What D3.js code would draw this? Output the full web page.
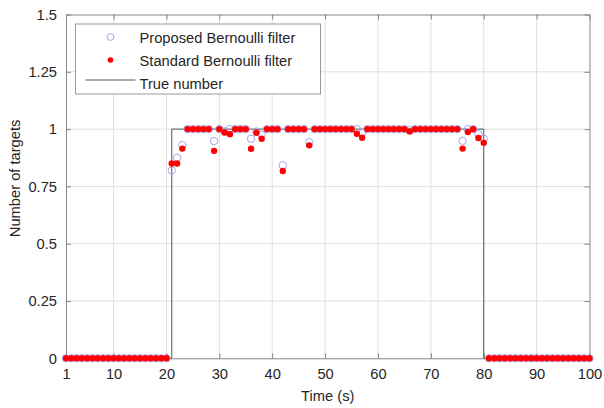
<!DOCTYPE html>
<html>
<head>
<meta charset="utf-8">
<script src="https://cdn.jsdelivr.net/npm/d3@7"></script>
<style>
    body { margin: 0; background: #fff; }
    text { font-family: Arial, "Liberation Sans", sans-serif; fill: #262626; }
</style>
</head>
<body>
<svg id="chart" width="604" height="408"></svg>
<script>
    // time steps (s)
    var times = d3.range(1, 101);

    // estimated number of targets, proposed filter
    var proposedEst = [
        0, 0, 0, 0, 0, 0, 0, 0, 0, 0,
        0, 0, 0, 0, 0, 0, 0, 0, 0, 0,
        0.82, 0.875, 0.93, 1, 1, 1, 1, 1, 0.948, 1,
        0.99, 1, 1, 1, 1, 0.958, 0.99, 0.975, 1, 1,
        1, 0.842, 1, 1, 1, 1, 0.943, 1, 1, 1,
        1, 1, 1, 1, 1, 1, 0.984, 1, 1, 1,
        1, 1, 1, 1, 1, 0.995, 1, 1, 1, 1,
        1, 1, 1, 1, 1, 0.949, 1, 1, 0.978, 0.958,
        0, 0, 0, 0, 0, 0, 0, 0, 0, 0,
        0, 0, 0, 0, 0, 0, 0, 0, 0, 0
    ];

    // estimated number of targets, standard filter
    var standardEst = [
        0, 0, 0, 0, 0, 0, 0, 0, 0, 0,
        0, 0, 0, 0, 0, 0, 0, 0, 0, 0,
        0.85, 0.85, 0.915, 1, 1, 1, 1, 1, 0.905, 1,
        0.985, 0.978, 1, 1, 1, 0.914, 0.984, 0.958, 1, 1,
        1, 0.817, 1, 1, 1, 1, 0.929, 1, 1, 1,
        1, 1, 1, 1, 1, 0.98, 0.962, 1, 1, 1,
        1, 1, 1, 1, 1, 0.99, 1, 1, 1, 1,
        1, 1, 1, 1, 1, 0.915, 0.987, 1, 0.961, 0.94,
        0, 0, 0, 0, 0, 0, 0, 0, 0, 0,
        0, 0, 0, 0, 0, 0, 0, 0, 0, 0
    ];

    // ground truth
    var trueNumber = [
        0, 0, 0, 0, 0, 0, 0, 0, 0, 0,
        0, 0, 0, 0, 0, 0, 0, 0, 0, 0,
        1, 1, 1, 1, 1, 1, 1, 1, 1, 1,
        1, 1, 1, 1, 1, 1, 1, 1, 1, 1,
        1, 1, 1, 1, 1, 1, 1, 1, 1, 1,
        1, 1, 1, 1, 1, 1, 1, 1, 1, 1,
        1, 1, 1, 1, 1, 1, 1, 1, 1, 1,
        1, 1, 1, 1, 1, 1, 1, 1, 1, 0,
        0, 0, 0, 0, 0, 0, 0, 0, 0, 0,
        0, 0, 0, 0, 0, 0, 0, 0, 0, 0
    ];

    var xTicks = [1, 10, 20, 30, 40, 50, 60, 70, 80, 90, 100];
    var yTicks = [0, 0.25, 0.5, 0.75, 1, 1.25, 1.5];
    var legendLabels = ['Proposed Bernoulli filter', 'Standard Bernoulli filter', 'True number'];

    var margin = {left: 66, top: 14.5, right: 14.5, bottom: 49.7};
    var width = 604 - margin.left - margin.right;
    var height = 408 - margin.top - margin.bottom;
    var fontSize = '14.7px';

    var svg = d3.select('#chart');
    var g = svg.append('g')
        .attr('transform', 'translate(' + margin.left + ',' + margin.top + ')');

    var x = d3.scaleLinear().domain([1, 100]).range([0, width]);
    var y = d3.scaleLinear().domain([0, 1.5]).range([height, 0]);

    // grid
    g.append('g').selectAll('line')
        .data(xTicks.slice(1, -1))
        .enter().append('line')
        .attr('x1', function(d) { return x(d); })
        .attr('x2', function(d) { return x(d); })
        .attr('y1', 0).attr('y2', height)
        .attr('stroke', '#e0e0e0').attr('stroke-width', 1);
    g.append('g').selectAll('line')
        .data(yTicks.slice(1, -1))
        .enter().append('line')
        .attr('x1', 0).attr('x2', width)
        .attr('y1', function(d) { return y(d); })
        .attr('y2', function(d) { return y(d); })
        .attr('stroke', '#e0e0e0').attr('stroke-width', 1);

    // axes, matlab style: ticks inside, box around
    var fmt = function(d) { return String(d); };
    var axisColor = '#858585';

    var xAxis = g.append('g')
        .attr('transform', 'translate(0,' + height + ')')
        .call(d3.axisBottom(x).tickValues(xTicks).tickFormat(fmt).tickSizeInner(-5).tickSizeOuter(0).tickPadding(10));
    var xTop = g.append('g')
        .call(d3.axisTop(x).tickValues(xTicks).tickFormat('').tickSizeInner(-5).tickSizeOuter(0));
    var yAxis = g.append('g')
        .call(d3.axisLeft(y).tickValues(yTicks).tickFormat(fmt).tickSizeInner(-5).tickSizeOuter(0).tickPadding(9));
    var yRight = g.append('g')
        .attr('transform', 'translate(' + width + ',0)')
        .call(d3.axisRight(y).tickValues(yTicks).tickFormat('').tickSizeInner(-5).tickSizeOuter(0));

    [xAxis, xTop, yAxis, yRight].forEach(function(a) {
        a.select('.domain').attr('stroke', axisColor);
        a.selectAll('.tick line').attr('stroke', axisColor);
        a.selectAll('.tick text')
            .attr('fill', '#262626')
            .style('font-size', fontSize)
            .style('font-family', 'Arial, "Liberation Sans", sans-serif');
    });

    // axis titles
    g.append('text')
        .attr('x', width / 2)
        .attr('y', height + 43)
        .attr('text-anchor', 'middle')
        .style('font-size', fontSize)
        .text('Time (s)');
    g.append('text')
        .attr('transform', 'translate(' + (-margin.left + 20) + ',' + (height / 2 - 8) + ') rotate(-90)')
        .attr('text-anchor', 'middle')
        .style('font-size', fontSize)
        .text('Number of targets');

    // true number
    var line = d3.line()
        .x(function(d, i) { return x(times[i]); })
        .y(function(d) { return y(d); })
        .curve(d3.curveStepAfter);
    g.append('path')
        .datum(trueNumber)
        .attr('d', line)
        .attr('fill', 'none')
        .attr('stroke', '#555')
        .attr('stroke-width', 1);

    // estimates
    g.append('g').selectAll('circle')
        .data(proposedEst)
        .enter().append('circle')
        .attr('cx', function(d, i) { return x(times[i]); })
        .attr('cy', function(d) { return y(d); })
        .attr('r', 3.7)
        .attr('fill', 'none')
        .attr('stroke', '#a4a4f2')
        .attr('stroke-width', 1);
    g.append('g').selectAll('circle')
        .data(standardEst)
        .enter().append('circle')
        .attr('cx', function(d, i) { return x(times[i]); })
        .attr('cy', function(d) { return y(d); })
        .attr('r', 3.2)
        .attr('fill', '#ff0000');

    // legend
    var legend = svg.append('g').attr('transform', 'translate(75.5,24)');
    legend.append('rect')
        .attr('width', 245).attr('height', 70)
        .attr('fill', '#fff')
        .attr('stroke', '#999').attr('stroke-width', 1);
    legend.selectAll('text.lbl')
        .data(legendLabels)
        .enter().append('text')
        .attr('class', 'lbl')
        .attr('x', 64)
        .attr('y', function(d, i) { return 19 + i * 23; })
        .style('font-size', fontSize)
        .text(function(d) { return d; });
    legend.append('circle')
        .attr('cx', 35).attr('cy', 13).attr('r', 3.4)
        .attr('fill', 'none').attr('stroke', '#a4a4f2').attr('stroke-width', 1);
    legend.append('circle')
        .attr('cx', 35).attr('cy', 36).attr('r', 2.8)
        .attr('fill', '#ff0000');
    legend.append('line')
        .attr('x1', 10).attr('x2', 60)
        .attr('y1', 56).attr('y2', 56)
        .attr('stroke', '#555').attr('stroke-width', 1);
</script>
</body>
</html>
